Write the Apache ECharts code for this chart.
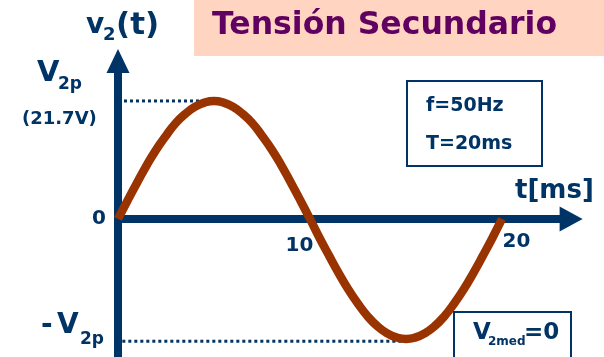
<!DOCTYPE html>
<html>
<head>
<meta charset="utf-8">
<script src="https://cdn.jsdelivr.net/npm/echarts@6/dist/echarts.min.js"></script>
<style>html,body{margin:0;padding:0;background:#fff}#c{width:604px;height:357px}</style>
</head>
<body>
<div id="c"></div>
<script>
// ---- data ----
const tMs = [0,0.5,1,1.5,2,2.5,3,3.5,4,4.5,5,5.5,6,6.5,7,7.5,8,8.5,9,9.5,10,
             10.5,11,11.5,12,12.5,13,13.5,14,14.5,15,15.5,16,16.5,17,17.5,18,18.5,19,19.5,20];
const v2  = [0,3.4,6.7,9.9,12.8,15.3,17.6,19.3,20.6,21.4,21.7,21.4,20.6,19.3,17.6,15.3,12.8,9.9,6.7,3.4,0,
             -3.5,-6.8,-10.0,-13.0,-15.6,-17.9,-19.7,-21.0,-21.8,-22.1,-21.8,-21.0,-19.7,-17.9,-15.6,-13.0,-10.0,-6.8,-3.5,0];
const peakGuideT = [0, 4.9];
const peakGuideV = 21.7;
const troughGuideT = [-0.4, 14.9];
const troughGuideV = -22.5;
const xTickValues = [10, 20];
const xTickLabels = ['10', '20'];
const yTickValues = [0];
const yTickLabels = ['0'];

const NAVY = '#003366';
const FONT = 'DejaVu Sans';

const chart = echarts.init(document.getElementById('c'), null, {renderer: 'canvas'});

function txt(text, x, y, size, color) {
  return {type: 'text', x: x, y: y, z: 10,
    style: {text: text, fill: color || NAVY, font: 'bold ' + size + 'px "' + FONT + '"',
            textAlign: 'left', textVerticalAlign: 'middle'}};
}

chart.setOption({
  animation: false,
  grid: {left: 118, right: 32.9, top: 61, bottom: 0, containLabel: false, outerBoundsMode: 'none'},
  xAxis: {
    type: 'value', min: 0, max: 23.6, position: 'bottom', offset: -138.1,
    axisLine: {onZero: false, lineStyle: {color: NAVY, width: 8},
               symbol: ['none', 'triangle'], symbolSize: [25, 23]},
    axisTick: {show: false}, splitLine: {show: false},
    axisLabel: {
      customValues: xTickValues, margin: 13, hideOverlap: false,
      showMinLabel: true, showMaxLabel: true,
      formatter: function (v) {
        const i = xTickValues.indexOf(v);
        if (i < 0) return '';
        return '{' + (i === 0 ? 'a' : 'b') + '|' + xTickLabels[i] + '}';
      },
      rich: {
        a: {color: NAVY, fontFamily: FONT, fontWeight: 'bold', fontSize: 20, padding: [4, 21, 0, 0]},
        b: {color: NAVY, fontFamily: FONT, fontWeight: 'bold', fontSize: 20, padding: [0, 0, 0, 29]}
      }
    }
  },
  yAxis: {
    type: 'value', min: -25.4, max: 29.05,
    axisLine: {onZero: false, lineStyle: {color: NAVY, width: 8},
               symbol: ['none', 'triangle'], symbolSize: [23, 24]},
    axisTick: {show: false}, splitLine: {show: false},
    axisLabel: {
      customValues: yTickValues, margin: 12, padding: [11, 0, 0, 0],
      color: NAVY, fontFamily: FONT, fontWeight: 'bold', fontSize: 20,
      formatter: function (v) {
        const i = yTickValues.indexOf(v);
        return i < 0 ? '' : yTickLabels[i];
      }
    }
  },
  series: [
    {type: 'line', z: 3, smooth: true, showSymbol: false,
     data: tMs.map((t, i) => [t, v2[i]]),
     lineStyle: {color: '#993300', width: 8.5}},
    {type: 'line', z: 2, showSymbol: false,
     data: peakGuideT.map(t => [t, peakGuideV]),
     lineStyle: {color: NAVY, width: 3, type: 'dotted'}},
    {type: 'line', z: 2, showSymbol: false, clip: false,
     data: troughGuideT.map(t => [t, troughGuideV]),
     lineStyle: {color: NAVY, width: 3, type: 'dotted'}}
  ],
  graphic: [
    {type: 'rect', z: 5, shape: {x: 194, y: 0, width: 410, height: 56}, style: {fill: '#FFD5C1'}},
    txt('Tensión Secundario', 212, 26, 31.5, '#600060'),
    {type: 'rect', z: 5, shape: {x: 407, y: 81, width: 135, height: 85}, style: {fill: '#fff', stroke: NAVY, lineWidth: 2}},
    txt('f=50Hz', 426, 106, 19),
    txt('T=20ms', 426, 144, 19),
    {type: 'rect', z: 5, shape: {x: 454, y: 312, width: 117, height: 60}, style: {fill: '#fff', stroke: NAVY, lineWidth: 2}},
    txt('V', 473, 333, 23),
    txt('2med', 488, 342, 12),
    txt('=0', 524, 333, 23),
    txt('v', 86, 26, 28),
    txt('2', 103, 35, 18),
    txt('(t)', 116, 26, 31),
    txt('t[ms]', 515, 191, 26),
    txt('V', 37, 73, 29),
    txt('2p', 58, 85, 17),
    txt('(21.7V)', 22, 119, 18),
    txt('-', 41, 326, 28),
    txt('V', 57, 326, 28),
    txt('2p', 80, 340, 17)
  ]
});
</script>
</body>
</html>
